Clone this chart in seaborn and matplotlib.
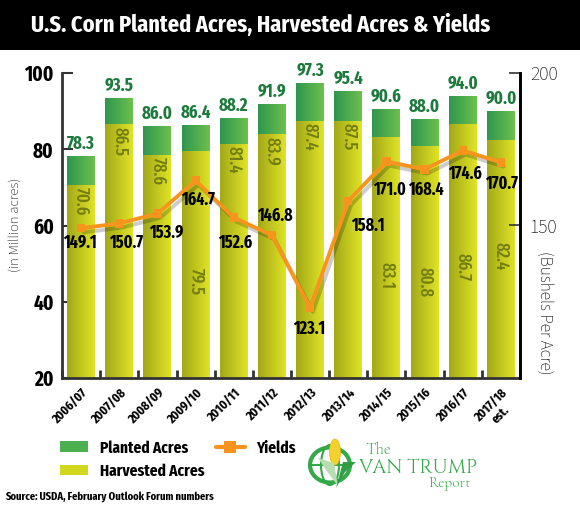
import numpy as np
import pandas as pd
import matplotlib
matplotlib.use("Agg")
import matplotlib.pyplot as plt
import seaborn as sns
from matplotlib.patches import Patch, Rectangle, Circle, Ellipse, Polygon
from matplotlib.lines import Line2D
from matplotlib.colors import LinearSegmentedColormap
import matplotlib.patheffects as pe

# ---------------- data ----------------
years = ["2006/07", "2007/08", "2008/09", "2009/10", "2010/11", "2011/12",
         "2012/13", "2013/14", "2014/15", "2015/16", "2016/17", "2017/18\nest."]
planted = [78.3, 93.5, 86.0, 86.4, 88.2, 91.9, 97.3, 95.4, 90.6, 88.0, 94.0, 90.0]
harvested = [70.6, 86.5, 78.6, 79.5, 81.4, 83.9, 87.4, 87.5, 83.1, 80.8, 86.7, 82.4]
yields = [149.1, 150.7, 153.9, 164.7, 152.6, 146.8, 123.1, 158.1, 171.0, 168.4, 174.6, 170.7]
left_ticks = [20, 40, 60, 80, 100]
right_ticks = [150, 200]

# label placement (top of rotated harvested labels, in acres) and yield label offsets (px)
harv_label_top = [70.0, 85.9, 78.0, 48.8, 80.8, 83.3, 86.8, 86.9, 50.4, 49.0, 52.7, 55.6]
yield_off = [(-1, 15), (7, 20), (9, 19), (2, 19), (1, 25), (3, -19),
             (-1, 21), (20, 25), (3, 28), (1, 20), (2, 23), (1, 22)]

NARROW = ['Fira Sans Extra Condensed', 'PT Sans Narrow', 'DejaVu Sans']
MYRIAD = ['Source Sans 3', 'DejaVu Sans']
sns.set_theme(style="white")
plt.rcParams['font.family'] = NARROW
plt.rcParams['text.color'] = 'black'

W, H = 580, 508
fig = plt.figure(figsize=(W / 100, H / 100), dpi=100)
fig.patch.set_facecolor("white")

# title band
fig.add_artist(Rectangle((0, 1 - 50 / H), 1, 50 / H, transform=fig.transFigure,
                         facecolor="black", edgecolor="none", zorder=0))
fig.text(261 / W, 1 - 25 / H, "U.S. Corn Planted Acres, Harvested Acres & Yields",
         color="white", fontsize=17.5, fontweight="bold", ha="center", va="center")

ax = fig.add_axes([62 / W, 1 - 378 / H, (520 - 62) / W, 305 / H])
df = pd.DataFrame({"year": years, "planted": planted, "harvested": harvested})

sns.barplot(data=df, x="year", y="planted", color="#4caf50", width=0.73,
            ax=ax, saturation=1, zorder=1)
n_pl = len(ax.patches)
sns.barplot(data=df, x="year", y="harvested", color="#d2d820", width=0.73,
            ax=ax, saturation=1, zorder=2)

YMIN, YMAX = 20, 100
ax.set_xlim(-0.5, len(years) - 0.5)
ax.set_ylim(YMIN, YMAX)

green_cmap = LinearSegmentedColormap.from_list("g", ["#2f9650", "#6cc04c"])
yellow_cmap = LinearSegmentedColormap.from_list("y", ["#a2a818", "#e0e426"])
grad = np.linspace(0, 1, 64).reshape(1, -1)
for i, p in enumerate(ax.patches):
    bb = p.get_bbox()
    cm = green_cmap if i < n_pl else yellow_cmap
    z = 1 if i < n_pl else 2
    im = ax.imshow(grad, cmap=cm, extent=[bb.x0, bb.x1, max(bb.y0, YMIN), bb.y1],
                   aspect="auto", zorder=z, interpolation="bilinear")
    im.set_clip_path(p)
    p.set_facecolor("none")
    p.set_edgecolor("none")
ax.set_xlim(-0.5, len(years) - 0.5)
ax.set_ylim(YMIN, YMAX)

# labels on bars
for i, (pv, hv) in enumerate(zip(planted, harvested)):
    ax.annotate(f"{pv:.1f}", (i, pv), xytext=(0, 7), textcoords="offset pixels",
                ha="center", va="baseline", fontsize=13, fontweight="bold",
                color="#1c7a3c", zorder=5)
    ax.text(i, harv_label_top[i], f"{hv:.1f}", rotation=270, ha="center", va="top",
            fontsize=13, fontweight="medium", color="#737d10", zorder=5)

# axes styling
ax.spines["top"].set_visible(False)
for s in ["left", "bottom", "right"]:
    ax.spines[s].set_color("#333333")
    ax.spines[s].set_linewidth(2)
ax.set_yticks(left_ticks)
ax.set_yticklabels([str(t) for t in left_ticks], fontweight="bold")
ax.tick_params(axis="y", direction="in", length=8, width=1.5, labelsize=15, pad=6,
               left=True, colors="#333333", labelcolor="black")
ax.set_xticks(range(len(years)))
ax.set_xticklabels(years, rotation=45, ha="right", rotation_mode="anchor",
                   fontsize=9.5, fontweight="bold", multialignment="center")
ax.tick_params(axis="x", length=0, pad=6, labelcolor="black")
ax.set_xticks(np.arange(-0.5, len(years), 1.0), minor=True)
ax.tick_params(axis="x", which="minor", direction="in", length=6, width=2,
               bottom=True, colors="#333333")
ax.set_xlabel("")
ax.set_ylabel("")
fig.text(15 / W, 1 - 225 / H, "(in Million acres)", rotation=90, ha="center",
         va="center", fontsize=10.5, family=MYRIAD, color="black")

# yields on right axis
ax2 = ax.twinx()
ax2.set_ylim(100, 200)
sns.lineplot(x=np.arange(len(years)), y=yields, ax=ax2, color="#f7941d",
             linewidth=2.8, marker="s", markersize=6, markeredgewidth=0,
             zorder=4,
             path_effects=[pe.SimpleLineShadow(offset=(2, -3), alpha=0.2, shadow_color="black"),
                           pe.Normal()])
for i, y in enumerate(yields):
    dx, dy = yield_off[i]
    ax2.annotate(f"{y:.1f}", (i, y), xytext=(dx, -dy), textcoords="offset pixels",
                 ha="center", va="center", fontsize=12.5, fontweight="bold",
                 color="black", zorder=6)
for s in ["top", "left", "bottom"]:
    ax2.spines[s].set_visible(False)
ax2.spines["right"].set_color("black")
ax2.spines["right"].set_linewidth(2)
ax2.set_yticks(right_ticks)
ax2.set_yticklabels([str(t) for t in right_ticks], family=MYRIAD)
ax2.tick_params(axis="y", direction="in", length=8, width=1.2, labelsize=14, pad=7,
                right=True, colors="#333333", labelcolor="black")
ax2.set_xlim(-0.5, len(years) - 0.5)
ax2.grid(False)
ax.grid(False)
fig.text(545 / W, 1 - 313 / H, "(Bushels Per Acre)", rotation=270, ha="center",
         va="center", fontsize=12.5, family=MYRIAD, color="black")

# legend
handles = [Patch(facecolor="#4caf50", edgecolor="none"),
           Patch(facecolor="#d2d820", edgecolor="none"),
           Line2D([], [], color="#f7941d", lw=3, marker="s", markersize=8,
                  markeredgewidth=0)]
labels = ["Planted Acres", "Harvested Acres", "Yields"]
fig.legend(handles, labels, loc="upper left", bbox_to_anchor=(60 / W, 1 - 440 / H),
           ncol=2, frameon=False, prop={"weight": "bold", "size": 12},
           handlelength=1.7, handleheight=0.6, labelspacing=0.45, borderpad=0,
           borderaxespad=0, columnspacing=0.7, handletextpad=0.7)

# logo
lg = "#35a84a"
cx, cy, r = 330, 465, 20
fig.add_artist(Circle((cx / W, 1 - cy / H), r / W, transform=fig.transFigure,
                      facecolor="none", edgecolor=lg, lw=3))
fig.add_artist(Ellipse((cx / W, 1 - cy / H), 18 / W, 40 / H, transform=fig.transFigure,
                       facecolor="none", edgecolor=lg, lw=1.5))
fig.add_artist(Line2D([(cx - r) / W, (cx + r) / W], [1 - cy / H, 1 - cy / H],
                      transform=fig.transFigure, color=lg, lw=1.5))
fig.add_artist(Ellipse((335 / W, 1 - 452 / H), 11 / W, 26 / H, transform=fig.transFigure,
                       facecolor="#f4d22b", edgecolor="#e3b81a", lw=0.5, zorder=3))
fig.add_artist(Polygon([[318 / W, 1 - 458 / H], [334 / W, 1 - 463 / H],
                        [338 / W, 1 - 486 / H], [326 / W, 1 - 470 / H]],
                       transform=fig.transFigure, facecolor="#b9ddb3", edgecolor="none", zorder=3))
fig.add_artist(Polygon([[356 / W, 1 - 462 / H], [343 / W, 1 - 462 / H],
                        [336 / W, 1 - 488 / H], [345 / W, 1 - 472 / H]],
                       transform=fig.transFigure, facecolor="#2e9e45", edgecolor="none", zorder=3))
SERIF = ['Cormorant Garamond', 'DejaVu Serif']
fig.text(378 / W, 1 - 450 / H, "The", color=lg, fontsize=12, family=SERIF,
         ha="center", va="center", fontweight="bold")
fig.text(418 / W, 1 - 466 / H, "VAN TRUMP", color=lg, fontsize=14,
         family=['Cinzel', 'DejaVu Serif'], ha="center", va="center")
fig.text(450 / W, 1 - 484 / H, "Report", color=lg, fontsize=11, family=SERIF,
         ha="center", va="center", fontweight="bold")

fig.text(5 / W, 1 - 497 / H, "Source: USDA, February Outlook Forum numbers",
         fontsize=8.2, fontweight="bold", ha="left", va="center", color="black")

fig.savefig("out.png", dpi=100)
